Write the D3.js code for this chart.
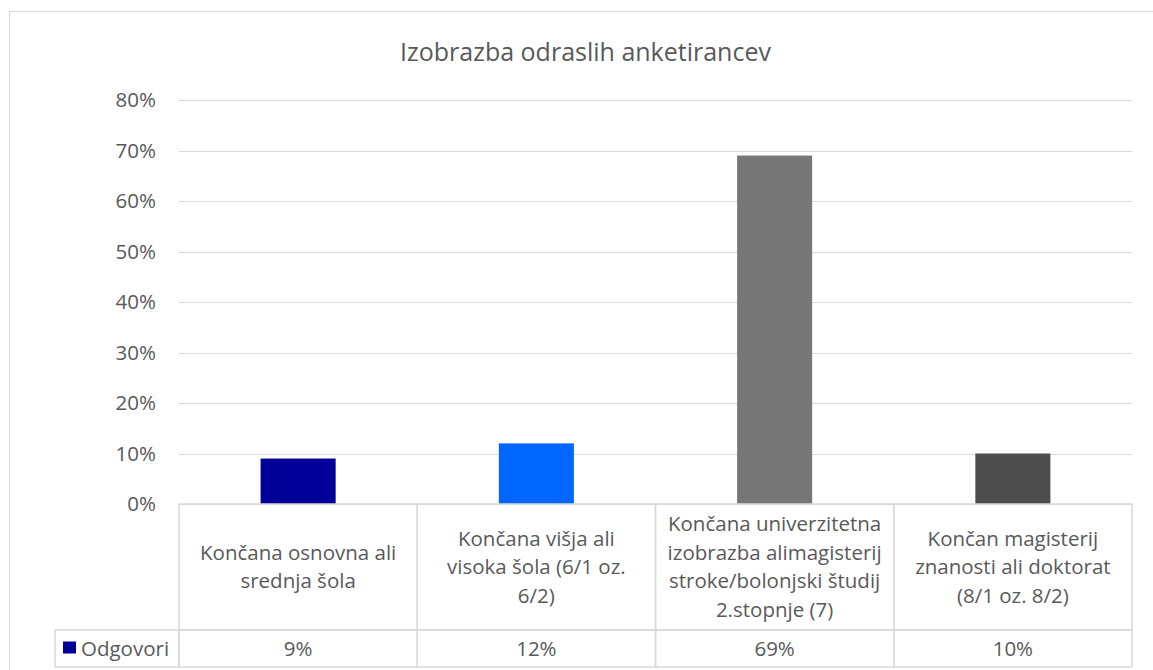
<!DOCTYPE html>
<html>
<head>
<meta charset="utf-8">
<title>Izobrazba odraslih anketirancev</title>
<style>
  body { margin: 0; background: #fff; }
  svg text { font-family: "Open Sans", sans-serif; fill: #595959; }
  .axis-y .domain { display: none; }
  .axis-y .tick line { stroke: #d9d9d9; shape-rendering: crispEdges; }
  .axis-y .tick text { font-size: 20.5px; }
  .grid-cell { stroke: #d9d9d9; stroke-width: 1.5; fill: none; }
</style>
</head>
<body>
<div id="chart"></div>
<script src="https://d3js.org/d3.v7.min.js"></script>
<script>
// data
var categories = [
  "Končana osnovna ali\nsrednja šola",
  "Končana višja ali\nvisoka šola (6/1 oz.\n6/2)",
  "Končana univerzitetna\nizobrazba alimagisterij\nstroke/bolonjski študij\n2.stopnje (7)",
  "Končan magisterij\nznanosti ali doktorat\n(8/1 oz. 8/2)"
];
var values = [0.09, 0.12, 0.69, 0.10];
var barColors = ["#000099", "#0066ff", "#767676", "#4d4d4d"];
var tickValues = [0, 0.1, 0.2, 0.3, 0.4, 0.5, 0.6, 0.7, 0.8];
var seriesName = "Odgovori";
var title = "Izobrazba odraslih anketirancev";

var W = 1153, H = 670;
var plot = { left: 179, right: 1132, top: 100, bottom: 504 };
var rowSplit = 630, tableBottom = 667, legendLeft = 55;

var svg = d3.select("#chart").append("svg")
  .attr("width", W).attr("height", H);

// outer chart border (runs past the window edge like the original)
svg.append("rect")
  .attr("x", 9.5).attr("y", 11.5)
  .attr("width", 1153).attr("height", 670)
  .attr("fill", "none").attr("stroke", "#d9d9d9");

svg.append("text")
  .attr("x", 585.5).attr("y", 61)
  .attr("text-anchor", "middle")
  .style("font-size", "25px")
  .text(title);

var data = categories.map(function(c, i) { return { cat: c, value: values[i], color: barColors[i] }; });

var y = d3.scaleLinear().domain([0, 0.8]).range([plot.bottom, plot.top]);

var xCell = d3.scaleBand()
  .domain(categories)
  .range([plot.left, plot.right])
  .padding(0);

var x = d3.scaleBand()
  .domain(categories)
  .range([plot.left, plot.right])
  .paddingInner(0.685)
  .paddingOuter(0.685 / 2);

// y axis with gridlines
svg.append("g")
  .attr("class", "axis-y")
  .attr("transform", "translate(" + plot.left + ",0)")
  .call(d3.axisLeft(y)
    .tickValues(tickValues)
    .tickFormat(d3.format(".0%"))
    .tickSize(-(plot.right - plot.left))
    .tickPadding(23))
  .call(function(g) {
    g.selectAll(".tick text").attr("x", -23);
  });

// bars
svg.selectAll(".bar")
  .data(data)
  .enter().append("rect")
  .attr("class", "bar")
  .attr("x", function(d) { return x(d.cat); })
  .attr("width", x.bandwidth())
  .attr("y", function(d) { return y(d.value); })
  .attr("height", function(d) { return y(0) - y(d.value); })
  .attr("fill", function(d) { return d.color; });

// data table
var table = svg.append("g");

table.selectAll(".cat-cell")
  .data(categories)
  .enter().append("rect")
  .attr("class", "grid-cell")
  .attr("x", function(d) { return xCell(d); })
  .attr("y", plot.bottom)
  .attr("width", xCell.bandwidth())
  .attr("height", rowSplit - plot.bottom);

table.selectAll(".val-cell")
  .data(categories)
  .enter().append("rect")
  .attr("class", "grid-cell")
  .attr("x", function(d) { return xCell(d); })
  .attr("y", rowSplit)
  .attr("width", xCell.bandwidth())
  .attr("height", tableBottom - rowSplit);

table.append("rect")
  .attr("class", "grid-cell")
  .attr("x", legendLeft)
  .attr("y", rowSplit)
  .attr("width", plot.left - legendLeft)
  .attr("height", tableBottom - rowSplit);

var lineH = 28.5;
var catMid = (plot.bottom + rowSplit) / 2 + 7;
table.selectAll(".cat-label")
  .data(data)
  .enter().append("text")
  .attr("class", "cat-label")
  .attr("text-anchor", "middle")
  .style("font-size", "20.5px")
  .each(function(d) {
    var lines = d.cat.split("\n");
    var t = d3.select(this);
    var first = catMid - (lines.length - 1) * lineH / 2;
    lines.forEach(function(l, i) {
      t.append("tspan")
        .attr("x", xCell(d.cat) + xCell.bandwidth() / 2)
        .attr("y", first + i * lineH)
        .text(l);
    });
  });

var valMid = (rowSplit + tableBottom) / 2;
table.selectAll(".val-label")
  .data(data)
  .enter().append("text")
  .attr("text-anchor", "middle")
  .attr("x", function(d) { return xCell(d.cat) + xCell.bandwidth() / 2; })
  .attr("y", valMid)
  .attr("dy", "0.36em")
  .style("font-size", "20.5px")
  .text(function(d) { return d3.format(".0%")(d.value); });

// legend key inside the table
table.append("rect")
  .attr("x", 63).attr("y", valMid - 7)
  .attr("width", 13).attr("height", 12)
  .attr("fill", barColors[0]);

table.append("text")
  .attr("x", 81)
  .attr("y", valMid)
  .attr("dy", "0.36em")
  .style("font-size", "20.5px")
  .text(seriesName);
</script>
</body>
</html>
